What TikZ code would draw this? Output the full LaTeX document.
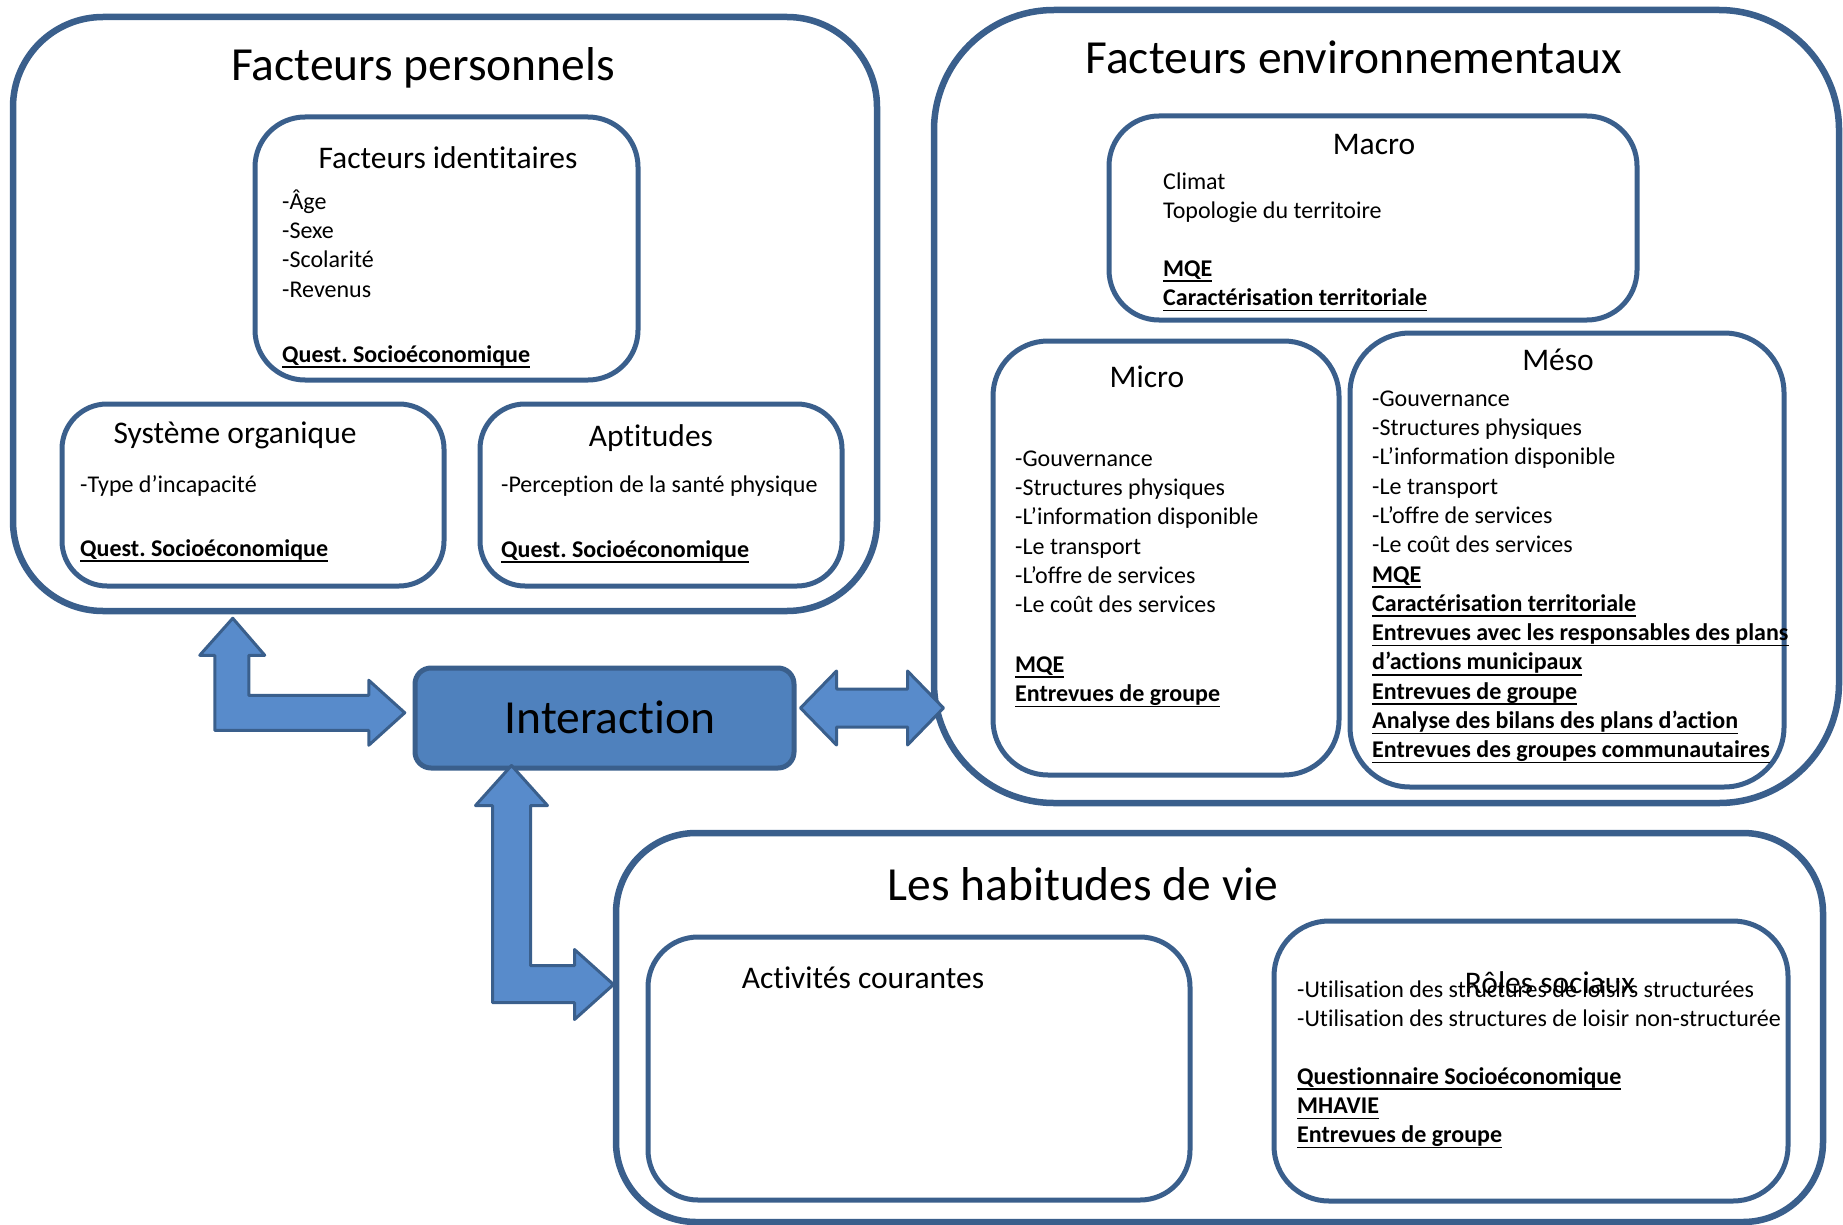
\documentclass[tikz,border=0pt]{standalone}
\usepackage{fontspec}
\setmainfont{Carlito}[Ligatures=NoCommon]
\usetikzlibrary{calc}
\definecolor{Frame}{HTML}{3A5F8C}
\definecolor{InterFill}{HTML}{4F81BD}
\definecolor{ArrowFill}{HTML}{588BCB}
\newsavebox{\methbox}
\newcommand{\meth}[1]{\sbox{\methbox}{\textbf{#1}}\rlap{\rule[-5.6pt]{\wd\methbox}{1.6pt}}\usebox{\methbox}}
\frenchspacing

\begin{document}
\begin{tikzpicture}[x=1pt, y=-1pt,
  outerbox/.style={draw=Frame, line width=6.5pt, inner sep=0pt},
  innerbox/.style={draw=Frame, line width=5pt, inner sep=0pt},
  bigtitle/.style={font=\fontsize{47.5}{56}\selectfont, anchor=base, inner sep=0pt},
  subtitle/.style={font=\fontsize{31.5}{38}\selectfont, anchor=base, inner sep=0pt},
  items/.style={font=\fontsize{24}{29.3}\selectfont, align=left, anchor=north west, inner sep=0pt},
  blockarrow/.style={draw=Frame, line width=3pt, fill=ArrowFill, line join=round}]
  \useasboundingbox (0,0) rectangle (1843,1225);

  % Facteurs personnels
  \node[outerbox, rounded corners=90pt, minimum width=864pt, minimum height=594pt] (fp) at (445,314) {};
  \node[innerbox, rounded corners=50pt, minimum width=383pt, minimum height=263pt] (ident) at (446.5,248.5) {};
  \node[innerbox, rounded corners=45pt, minimum width=382pt, minimum height=182pt] (organ) at (253,495) {};
  \node[innerbox, rounded corners=45pt, minimum width=362pt, minimum height=182pt] (aptit) at (661,495) {};

  % Facteurs environnementaux
  \node[outerbox, rounded corners=120pt, minimum width=905pt, minimum height=793pt] (fe) at (1386.5,406.5) {};
  \node[innerbox, rounded corners=50pt, minimum width=528pt, minimum height=204pt] (macro) at (1373,218) {};
  \node[innerbox, rounded corners=55pt, minimum width=346pt, minimum height=434pt] (micro) at (1166,558) {};
  \node[innerbox, rounded corners=60pt, minimum width=434pt, minimum height=454pt] (meso) at (1567,560) {};

  % Les habitudes de vie
  \node[outerbox, rounded corners=80pt, minimum width=1207pt, minimum height=389pt] (hab) at (1219.5,1027.5) {};
  \node[innerbox, rounded corners=50pt, minimum width=542pt, minimum height=263pt] (activ) at (919,1068.5) {};
  \node[innerbox, rounded corners=55pt, minimum width=514pt, minimum height=280pt] (roles) at (1531,1061) {};

  % Interaction
  \node[draw=Frame, line width=5pt, fill=InterFill, rounded corners=16pt, minimum width=379pt, minimum height=100pt] (inter) at (604.5,718) {};

  % block arrows
  \draw[blockarrow] ($(fp.south west)+(223,4)$) -- ++(32,37) -- ++(-16,0) -- ++(0,40) -- ++(120,0) -- ++(0,-15)
    -- ++(36,32.5) -- ++(-36,32.5) -- ++(0,-15) -- ++(-154,0) -- ++(0,-75) -- ++(-15,0) -- cycle;
  \draw[blockarrow] ($(inter.east)+(4,-10)$) -- ++(36,-37) -- ++(0,18) -- ++(71,0) -- ++(0,-18) -- ++(36,37)
    -- ++(-36,37) -- ++(0,-18) -- ++(-71,0) -- ++(0,18) -- cycle;
  \draw[blockarrow] ($(inter.south west)+(99,-5)$) -- ++(36,40) -- ++(-17,0) -- ++(0,160) -- ++(44,0) -- ++(0,-16)
    -- ++(39,35) -- ++(-39,35) -- ++(0,-17) -- ++(-82,0) -- ++(0,-197) -- ++(-17,0) -- cycle;

  % texts
  \node[bigtitle] (fpT) at (423,81) {Facteurs personnels};
  \node[subtitle] (identT) at (448,169) {Facteurs identitaires};
  \node[items] (identL) at (282,188.5) {\strut-Âge\\-Sexe\\-Scolarité\\-Revenus};
  \node[items] (identM) at (282,341.5) {\strut\meth{Quest. Socioéconomique}};
  \node[subtitle] (organT) at (235,443) {Système organique};
  \node[items] (organL) at (80,471.5) {\strut-Type d’incapacité};
  \node[items] (organM) at (80,535.5) {\strut\meth{Quest. Socioéconomique}};
  \node[subtitle] (aptitT) at (651,446) {Aptitudes};
  \node[items] (aptitL) at (501,471.5) {\strut-Perception de la santé physique};
  \node[items] (aptitM) at (501,536.5) {\strut\meth{Quest. Socioéconomique}};

  \node[bigtitle] (feT) at (1354,74) {Facteurs environnementaux};
  \node[subtitle] (macroT) at (1374,155) {Macro};
  \node[items] (macroL) at (1163,168.5) {\strut Climat\\Topologie du territoire};
  \node[items] (macroM) at (1163,255.5) {\strut\meth{MQE}\\\meth{Caractérisation territoriale}};
  \node[subtitle] (microT) at (1147,387) {Micro};
  \node[items] (microL) at (1015,445.5) {\strut-Gouvernance\\-Structures physiques\\-L’information disponible\\-Le transport\\-L’offre de services\\-Le coût des services};
  \node[items] (microM) at (1015,651.5) {\strut\meth{MQE}\\\meth{Entrevues de groupe}};
  \node[subtitle] (mesoT) at (1558,370) {Méso};
  \node[items] (mesoL) at (1372,385.5) {\strut-Gouvernance\\-Structures physiques\\-L’information disponible\\-Le transport\\-L’offre de services\\-Le coût des services\\
    \meth{MQE}\\\meth{Caractérisation territoriale}\\\meth{Entrevues avec les responsables des plans}\\\meth{d’actions municipaux}\\
    \meth{Entrevues de groupe}\\\meth{Analyse des bilans des plans d’action}\\\meth{Entrevues des groupes communautaires}};

  \node[bigtitle] (interT) at (610,733) {Interaction};

  \node[bigtitle] (habT) at (1083,900) {Les habitudes de vie};
  \node[subtitle] (activT) at (863,988) {Activités courantes};
  \node[subtitle] (rolesT) at (1550,993) {Rôles sociaux};
  \node[items] (rolesL) at (1297,976.5) {\strut-Utilisation des structures de loisirs structurées\\-Utilisation des structures de loisir non-structurée};
  \node[items] (rolesM) at (1297,1063.5) {\strut\meth{Questionnaire Socioéconomique}\\\meth{MHAVIE}\\\meth{Entrevues de groupe}};
\end{tikzpicture}
\end{document}
